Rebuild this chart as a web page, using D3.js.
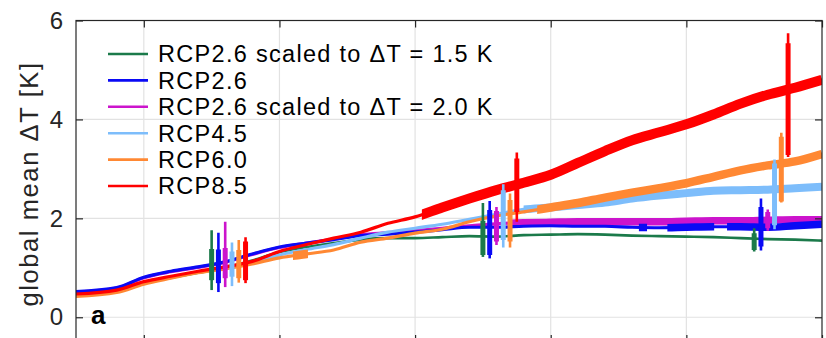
<!DOCTYPE html>
<html><head><meta charset="utf-8">
<script src="https://cdn.jsdelivr.net/npm/d3@7"></script>
<style>
html,body{margin:0;padding:0;background:#fff;}
svg{display:block;font-family:"Liberation Sans",Arial,Helvetica,sans-serif;}
</style></head>
<body><svg id="chart" width="826" height="338"></svg>
<script>
// ---------- data ----------
const years = [1990,1996,2000,2004,2008,2012,2016,2020,2024,2028,2032,2036,2040,2044,2048,2052,2056,2060,2064,2068,2072,2076,2080,2084,2088,2092,2096,2100];

const rcp26_15 = [0.45,0.52,0.70,0.80,0.90,1.00,1.15,1.32,1.42,1.50,1.57,1.60,1.60,1.62,1.64,1.63,1.66,1.67,1.68,1.67,1.65,1.64,1.63,1.62,1.60,1.58,1.57,1.55];
const rcp26    = [0.52,0.60,0.81,0.93,1.02,1.12,1.28,1.42,1.50,1.57,1.65,1.68,1.72,1.77,1.82,1.82,1.84,1.85,1.84,1.84,1.82,1.81,1.82,1.83,1.83,1.82,1.85,1.88];
const rcp26_20 = [0.51,0.59,0.80,0.92,1.01,1.11,1.27,1.41,1.50,1.58,1.67,1.71,1.75,1.80,1.85,1.89,1.91,1.92,1.93,1.93,1.93,1.93,1.94,1.95,1.95,1.96,1.97,1.97];
const rcp45    = [0.45,0.52,0.69,0.81,0.91,1.00,1.10,1.26,1.37,1.47,1.60,1.72,1.80,1.88,1.98,2.08,2.18,2.22,2.27,2.32,2.40,2.46,2.51,2.56,2.57,2.58,2.61,2.64];
const rcp60    = [0.42,0.50,0.67,0.79,0.90,0.98,1.08,1.20,1.28,1.36,1.52,1.60,1.70,1.78,1.93,2.05,2.13,2.22,2.31,2.42,2.52,2.61,2.71,2.84,2.97,3.07,3.15,3.30];
const rcp85    = [0.47,0.55,0.72,0.83,0.93,1.02,1.13,1.33,1.47,1.60,1.72,1.90,2.03,2.22,2.40,2.57,2.72,2.88,3.12,3.36,3.58,3.74,3.90,4.10,4.32,4.50,4.64,4.80];

const seriesNames = ["RCP2.6 scaled to \u0394T = 1.5 K","RCP2.6","RCP2.6 scaled to \u0394T = 2.0 K","RCP4.5","RCP6.0","RCP8.5"];
const seriesValues = [rcp26_15, rcp26, rcp26_20, rcp45, rcp60, rcp85];
const seriesColors = ["#1b7a4a","#0a0af5","#cc14cc","#7dbdfb","#ff8833","#ff0000"];
// periods (years) drawn with the heavy line
const heavyPeriods = [
  [],
  [[2073,2074.2],[2077.2,2084.1],[2086,2100]],
  [[2054,2100]],
  [[2056,2100]],
  [[2022,2024.2],[2058,2100]],
  [[2041,2100]]
];

// error bars: [year, whisker low, box low, box high, whisker high], one per series
const barsNear = [[2010,0.55,0.75,1.38,1.76],[2011,0.51,0.69,1.37,1.71],[2012,0.61,0.79,1.40,1.93],[2013,0.63,0.82,1.33,1.51],[2014,0.70,0.79,1.36,1.56],[2015,0.69,0.75,1.53,1.62]];
const barsMid  = [[2050,1.22,1.26,1.95,2.31],[2051,1.19,1.26,2.17,2.35],[2052,1.46,1.53,2.15,2.23],[2053,1.41,1.56,2.57,2.69],[2054,1.41,1.53,2.37,2.50],[2055,1.93,2.13,3.21,3.33]];
const barsFar  = [[2090,1.33,1.36,1.70,1.80],[2091,1.35,1.43,2.23,2.40],[2092,1.75,1.80,2.13,2.18],[2093,1.78,1.86,3.11,3.19],[2094,2.32,2.34,3.65,3.73],[2095,3.24,3.28,5.54,5.74]];

const xTicks = [2000,2020,2040,2060,2080,2100];
const yTicks = [0,2,4,6];

// ---------- drawing ----------
const svg = d3.select("#chart");
const x = d3.scaleLinear().domain([1990,2100]).range([76,822]);
const y = d3.scaleLinear().domain([-0.5,6]).range([342,20.5]);
const axisColor = "#262626";

const defs = svg.append("defs");
defs.append("clipPath").attr("id","plotclip")
  .append("rect").attr("x",76).attr("y",20.5).attr("width",746).attr("height",321.5);

// grid
const grid = svg.append("g");
grid.selectAll("line.gx").data(xTicks.slice(0,-1)).join("line")
  .attr("x1",d=>x(d)).attr("x2",d=>x(d)).attr("y1",y(6)).attr("y2",y(-0.5))
  .attr("stroke","#e2e2e2").attr("stroke-width",1.2);
grid.selectAll("line.gy").data(yTicks.slice(0,-1)).join("line")
  .attr("y1",d=>y(d)).attr("y2",d=>y(d)).attr("x1",x(1990)).attr("x2",x(2100))
  .attr("stroke","#e2e2e2").attr("stroke-width",1.2);

// lines
const plot = svg.append("g").attr("clip-path","url(#plotclip)");
const line = d3.line().x(d=>x(d[0])).y(d=>y(d[1])).curve(d3.curveMonotoneX);
const drawOrder = [0,2,1,3,4,5];
const heavyWidth = [3,7.5,7.5,8,8.5,10];
drawOrder.forEach(k=>{
  const vals = seriesValues[k];
  const pts = years.map((yr,i)=>[yr, vals[i]]);
  const full = line(pts);
  plot.append("path").attr("d", full).attr("fill","none")
    .attr("stroke", seriesColors[k]).attr("stroke-width", k===0?2.6:3.2)
    .attr("stroke-linejoin","round");
  // heavy periods: same curve, shown only within the period via a clip
  heavyPeriods[k].forEach(([a,b],j)=>{
    const id = `hp${k}_${j}`;
    defs.append("clipPath").attr("id",id)
      .append("rect").attr("x",x(a)).attr("y",0).attr("width",x(b)-x(a)+(b>=2100?10:0)).attr("height",400);
    plot.append("g").attr("clip-path",`url(#${id})`)
      .append("path").attr("d", full).attr("fill","none")
      .attr("stroke", seriesColors[k]).attr("stroke-width", heavyWidth[k])
      .attr("stroke-linejoin","round");
  });
});

// error bars
[barsNear, barsMid, barsFar].forEach(group=>{
  group.forEach((b,k)=>{
    const [yr, wlo, blo, bhi, whi] = b;
    plot.append("line").attr("x1",x(yr)).attr("x2",x(yr)).attr("y1",y(wlo)).attr("y2",y(whi))
      .attr("stroke",seriesColors[k]).attr("stroke-width",2.6);
    plot.append("line").attr("x1",x(yr)).attr("x2",x(yr)).attr("y1",y(blo)).attr("y2",y(bhi))
      .attr("stroke",seriesColors[k]).attr("stroke-width",5);
  });
});

// axes box
const axG = svg.append("g");
axG.append("rect").attr("x",x(1990)).attr("y",y(6)).attr("width",x(2100)-x(1990)).attr("height",y(-0.5)-y(6))
  .attr("fill","none").attr("stroke",axisColor).attr("stroke-width",1.2);

const yAxisL = d3.axisLeft(y).tickValues(yTicks).tickSize(-7).tickPadding(13).tickFormat(d3.format("d"));
const gL = svg.append("g").attr("transform",`translate(${x(1990)},0)`).call(yAxisL);
const yAxisR = d3.axisRight(y).tickValues(yTicks).tickSize(-7).tickFormat("");
const gR = svg.append("g").attr("transform",`translate(${x(2100)},0)`).call(yAxisR);
const xAxisT = d3.axisTop(x).tickValues(xTicks).tickSize(-7).tickFormat("");
const gT = svg.append("g").attr("transform",`translate(0,${y(6)})`).call(xAxisT);
const xAxisB = d3.axisBottom(x).tickValues(xTicks).tickSize(-7).tickFormat("");
const gB = svg.append("g").attr("transform",`translate(0,${y(-0.5)})`).call(xAxisB);
[gL,gR,gT,gB].forEach(g=>{
  g.select(".domain").remove();
  g.selectAll(".tick line").attr("stroke",axisColor).attr("stroke-width",1.2);
});
gL.selectAll(".tick text").attr("fill",axisColor).attr("font-size",24)
  .attr("font-family","Liberation Sans, Arial, sans-serif");

// y label
svg.append("text").attr("transform","translate(38,184) rotate(-90)")
  .attr("text-anchor","middle").attr("font-size",25.5).attr("letter-spacing","1.6px").attr("fill",axisColor)
  .text("global mean \u0394T [K]");

// panel letter
svg.append("text").attr("x",91).attr("y",324).attr("font-size",26).attr("font-weight","bold")
  .attr("fill","#000").text("a");

// legend
const leg = svg.append("g");
seriesNames.forEach((name,k)=>{
  const yy = 54 + k*26.4;
  leg.append("line").attr("x1",108).attr("x2",148).attr("y1",yy).attr("y2",yy)
    .attr("stroke",seriesColors[k]).attr("stroke-width",2.6);
  leg.append("text").attr("x",158).attr("y",yy).attr("dy","0.36em")
    .attr("font-size",23.5).attr("letter-spacing","1.3px").attr("fill","#000").text(name);
});
</script></body></html>
